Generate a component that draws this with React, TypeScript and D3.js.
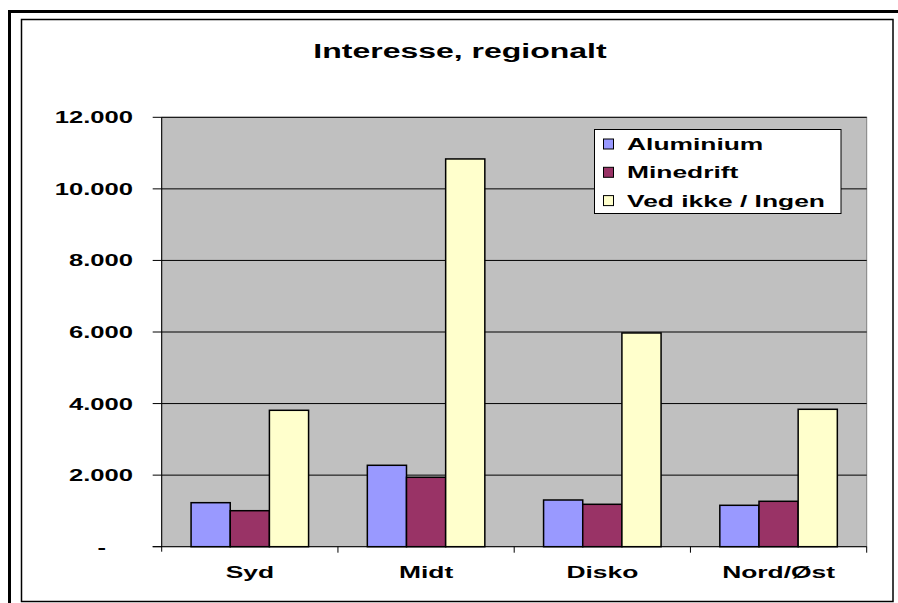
import React, { useEffect, useRef } from "react";
import * as d3 from "d3";

// chart data
const categories = ["Syd", "Midt", "Disko", "Nord/Øst"];
const seriesNames = ["Aluminium", "Minedrift", "Ved ikke / Ingen"];
const aluminium = [1230, 2275, 1305, 1157];
const minedrift = [1006, 1940, 1185, 1269];
const vedIkke = [3812, 10836, 5973, 3840];
const yTicks = [0, 2000, 4000, 6000, 8000, 10000, 12000];
const seriesColours = ["#9999FF", "#993366", "#FFFFCC"];

const title = "Interesse, regionalt";

const W = 898;
const H = 603;
// plot area
const left = 161.7;
const right = 866.7;
const top = 117.3;
const bottom = 546.7;

// the original text is stretched sideways
const stretch = 1.6;
const font = "'Liberation Sans', Arial, sans-serif";

const locale = d3.formatLocale({ decimal: ",", thousands: ".", grouping: [3], currency: ["", ""] });
const fmt = locale.format(",d");

function App() {
    const ref = useRef<SVGSVGElement>(null);

    useEffect(() => {
        const svg = d3.select(ref.current);
        svg.selectAll("*").remove();

        const values = [aluminium, minedrift, vedIkke];

        const x = d3.scaleBand<string>().domain(categories).range([left, right]).paddingInner(0).paddingOuter(0);
        const xInner = d3.scaleBand<string>().domain(seriesNames).range([0, x.bandwidth()]).paddingInner(0).paddingOuter(0.75);
        const y = d3.scaleLinear().domain([0, 12000]).range([bottom, top]);

        const addText = (g: any, txt: string, tx: number, ty: number, size: number, anchor: string) =>
            g.append("text")
                .attr("transform", `translate(${tx},${ty}) scale(${stretch},1)`)
                .attr("text-anchor", anchor)
                .attr("font-family", font)
                .attr("font-weight", "bold")
                .attr("font-size", size)
                .attr("fill", "#000")
                .text(txt);

        // frames
        svg.append("rect").attr("x", 0).attr("y", 0).attr("width", W).attr("height", H).attr("fill", "#fff");
        svg.append("rect").attr("x", 9.5).attr("y", 11.5).attr("width", W + 20).attr("height", H + 20)
            .attr("fill", "none").attr("stroke", "#000").attr("stroke-width", 3);
        svg.append("rect").attr("x", 21.5).attr("y", 19.5).attr("width", 893 - 21.5).attr("height", 601.5 - 19.5)
            .attr("fill", "#fff").attr("stroke", "#000").attr("stroke-width", 1.5);

        addText(svg, title, 460, 58, 20, "middle");

        // plot area
        svg.append("rect").attr("x", left).attr("y", top).attr("width", right - left).attr("height", bottom - top)
            .attr("fill", "#C0C0C0").attr("stroke", "#808080").attr("stroke-width", 1);

        // gridlines
        svg.selectAll(".grid")
            .data(yTicks.filter(d => d > 0))
            .enter()
            .append("line")
            .attr("x1", left).attr("x2", right)
            .attr("y1", d => y(d)).attr("y2", d => y(d))
            .attr("stroke", "#000").attr("stroke-width", 1);

        // bars
        seriesNames.forEach((s, si) => {
            svg.selectAll(".bar" + si)
                .data(values[si])
                .enter()
                .append("rect")
                .attr("x", (d, i) => (x(categories[i]) as number) + (xInner(s) as number))
                .attr("y", d => y(d))
                .attr("width", xInner.bandwidth())
                .attr("height", d => bottom - y(d))
                .attr("fill", seriesColours[si])
                .attr("stroke", "#000")
                .attr("stroke-width", 1.5);
        });

        // axes
        svg.append("line").attr("x1", left).attr("x2", left).attr("y1", top).attr("y2", bottom + 5)
            .attr("stroke", "#000").attr("stroke-width", 1);
        svg.append("line").attr("x1", left - 9).attr("x2", right).attr("y1", bottom).attr("y2", bottom)
            .attr("stroke", "#000").attr("stroke-width", 1);

        yTicks.forEach(t => {
            svg.append("line").attr("x1", left - 9).attr("x2", left).attr("y1", y(t)).attr("y2", y(t))
                .attr("stroke", "#000").attr("stroke-width", 1);
            const label = t === 0 ? "-" : fmt(t);
            addText(svg, label, t === 0 ? 106 : 133, y(t) + 6, 16, "end");
        });

        categories.forEach((c, i) => {
            const bx = (x(c) as number) + x.bandwidth();
            svg.append("line").attr("x1", bx).attr("x2", bx).attr("y1", bottom).attr("y2", bottom + 6)
                .attr("stroke", "#000").attr("stroke-width", 1);
            addText(svg, c, (x(c) as number) + x.bandwidth() / 2, 578, 16.5, "middle");
        });

        // legend
        const legend = svg.append("g");
        legend.append("rect").attr("x", 594.5).attr("y", 129.5).attr("width", 246.5).attr("height", 84)
            .attr("fill", "#fff").attr("stroke", "#000").attr("stroke-width", 1);
        seriesNames.forEach((s, i) => {
            const cy = 144 + i * 28.3;
            legend.append("rect").attr("x", 603.5).attr("y", cy - 5).attr("width", 10).attr("height", 10)
                .attr("fill", seriesColours[i]).attr("stroke", "#000").attr("stroke-width", 1);
            addText(legend, s, 627, cy + 6, 16.5, "start");
        });
    }, []);

    return (
        <svg ref={ref} width={W} height={H} style={{ position: "absolute", left: 0, top: 0, display: "block" }} />
    );
}

export default App;
